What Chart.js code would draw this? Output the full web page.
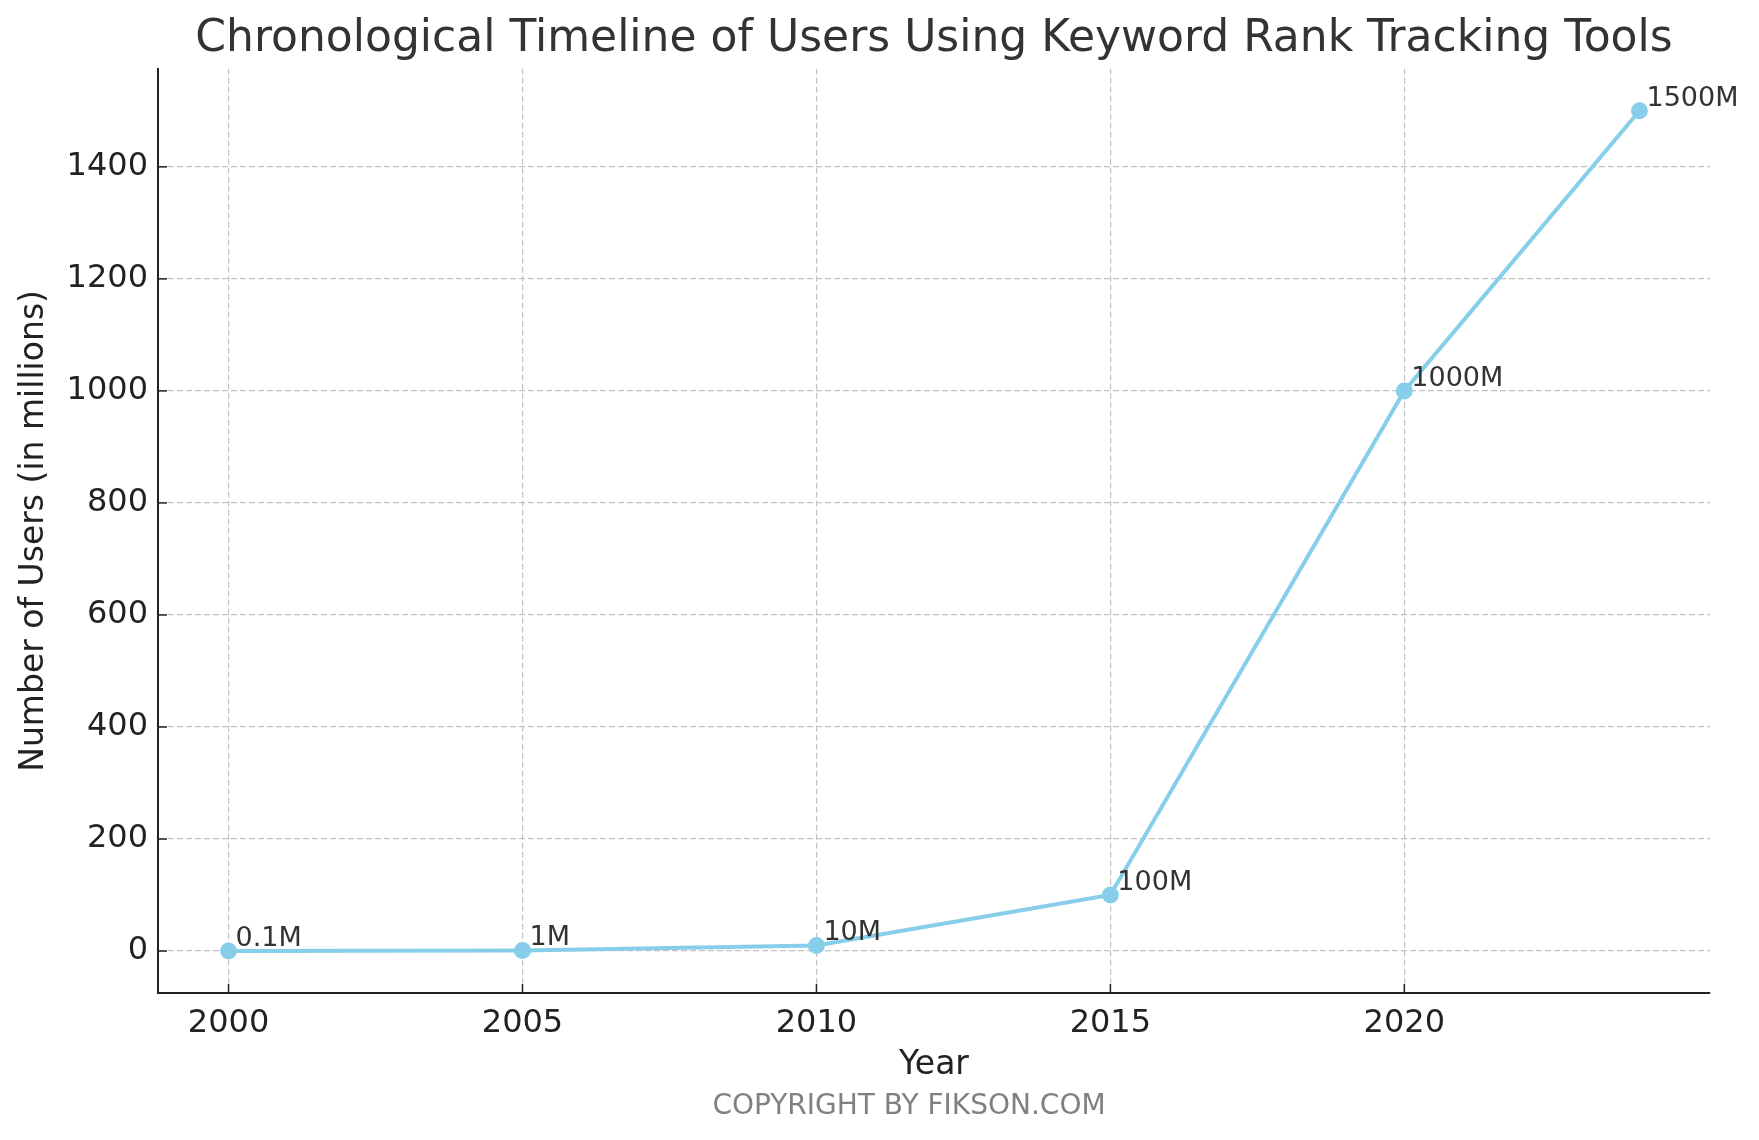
<!DOCTYPE html>
<html>
<head>
<meta charset="utf-8">
<script src="https://cdn.jsdelivr.net/npm/chart.js@4.4.1/dist/chart.umd.min.js"></script>
<style>
  body { margin: 0; background: #fff; }
  #graphique { display: block; }
</style>
</head>
<body>
<canvas id="graphique" width="1759" height="1140"></canvas>
<script>
// données
const annees = [2000, 2005, 2010, 2015, 2020, 2024];
const utilisateurs = [0.1, 1, 10, 100, 1000, 1500]; // en millions
const etiquettes = utilisateurs.map(v => v + 'M');
const ticksX = [2000, 2005, 2010, 2015, 2020];
const ticksY = [0, 200, 400, 600, 800, 1000, 1200, 1400];

// marges façon matplotlib (5%)
const dx = (annees[annees.length - 1] - annees[0]) * 0.05;
const dy = (Math.max(...utilisateurs) - Math.min(...utilisateurs)) * 0.05;

const police = 'DejaVu Sans';
const bleu = '#87CEEB';

// petits traits de graduation vers l'intérieur + étiquettes des points + copyright
const decor = {
    id: 'decor',
    afterDraw(chart) {
        const ctx = chart.ctx;
        const zone = chart.chartArea;
        const sx = chart.scales.x, sy = chart.scales.y;
        ctx.save();
        ctx.strokeStyle = '#222';
        ctx.lineWidth = 1.5;
        ticksX.forEach(v => {
            const px = sx.getPixelForValue(v);
            ctx.beginPath();
            ctx.moveTo(px, zone.bottom);
            ctx.lineTo(px, zone.bottom - 9);
            ctx.stroke();
        });
        ticksY.forEach(v => {
            const py = sy.getPixelForValue(v);
            ctx.beginPath();
            ctx.moveTo(zone.left, py);
            ctx.lineTo(zone.left + 9, py);
            ctx.stroke();
        });

        // valeurs à côté de chaque point
        const meta = chart.getDatasetMeta(0);
        ctx.fillStyle = '#333';
        ctx.font = '27px "' + police + '"';
        ctx.textAlign = 'left';
        ctx.textBaseline = 'alphabetic';
        meta.data.forEach((pt, i) => {
            ctx.fillText(etiquettes[i], pt.x + 7, pt.y - 5);
        });

        ctx.fillStyle = '#808080';
        ctx.font = '28px "' + police + '"';
        ctx.textAlign = 'center';
        ctx.textBaseline = 'middle';
        ctx.fillText('COPYRIGHT BY FIKSON.COM', 909, 1107);
        ctx.restore();
    }
};

const ctx = document.querySelector('#graphique');

new Chart(ctx, {
    type: 'line',
    data: {
        datasets: [{
            label: 'Utilisateurs',
            data: annees.map((a, i) => ({ x: a, y: utilisateurs[i] })),
            borderColor: bleu,
            backgroundColor: bleu,
            borderWidth: 4,
            pointRadius: 8.5,
            pointBorderWidth: 0,
            pointBackgroundColor: bleu,
            tension: 0
        }]
    },
    options: {
        responsive: false,
        animation: false,
        layout: { padding: { top: 13, right: 49, bottom: 50, left: 0 } },
        scales: {
            x: {
                type: 'linear',
                min: annees[0] - dx,
                max: annees[annees.length - 1] + dx,
                afterBuildTicks: s => { s.ticks = ticksX.map(v => ({ value: v })); },
                afterFit: s => { s.height = 97; },
                ticks: {
                    padding: 11,
                    color: '#222',
                    font: { family: police, size: 32 },
                    callback: v => String(v)
                },
                grid: { color: '#c2c2c2', lineWidth: 1.2, drawTicks: false },
                border: { color: '#222', width: 2, dash: [6, 3] },
                title: {
                    display: true,
                    text: 'Year',
                    color: '#222',
                    font: { family: police, size: 33 },
                    padding: { top: 0, bottom: 5 }
                }
            },
            y: {
                min: Math.min(...utilisateurs) - dy,
                max: Math.max(...utilisateurs) + dy,
                afterBuildTicks: s => { s.ticks = ticksY.map(v => ({ value: v })); },
                afterFit: s => { s.width = 158; },
                ticks: {
                    padding: 10,
                    color: '#222',
                    font: { family: police, size: 32 },
                    callback: v => String(v)
                },
                grid: { color: '#c2c2c2', lineWidth: 1.2, drawTicks: false },
                border: { color: '#222', width: 2, dash: [6, 3] },
                title: {
                    display: true,
                    text: 'Number of Users (in millions)',
                    color: '#222',
                    font: { family: police, size: 33 },
                    padding: { top: 15, bottom: 0 }
                }
            }
        },
        plugins: {
            legend: { display: false },
            tooltip: { enabled: false },
            title: {
                display: true,
                fullSize: false,
                text: 'Chronological Timeline of Users Using Keyword Rank Tracking Tools',
                color: '#333',
                font: { family: police, size: 44, weight: 'normal' },
                padding: { top: 0, bottom: 3 }
            }
        }
    },
    plugins: [decor]
});
</script>
</body>
</html>
